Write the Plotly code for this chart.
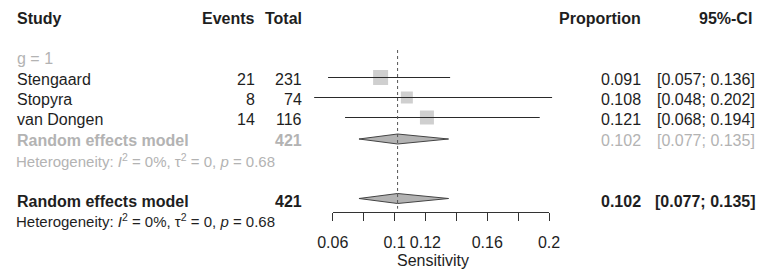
import plotly.graph_objects as go

# ---------------- data ----------------
studies = ["Stengaard", "Stopyra", "van Dongen"]
events = [21, 8, 14]
totals = [231, 74, 116]
proportion = [0.091, 0.108, 0.121]
ci_lower = [0.057, 0.048, 0.068]
ci_upper = [0.136, 0.202, 0.194]

subgroup_label = "g = 1"
subgroup_est, subgroup_lo, subgroup_hi, subgroup_total = 0.102, 0.077, 0.135, 421
overall_est, overall_lo, overall_hi, overall_total = 0.102, 0.077, 0.135, 421
het_i2, het_tau2, het_p = "0%", "0", "0.68"

axis_ticks = [0.06, 0.08, 0.10, 0.12, 0.14, 0.16, 0.18, 0.20]
labelled_ticks = [0.06, 0.10, 0.12, 0.16, 0.20]
axis_tick_labels = ["0.06", "0.1", "0.12", "0.16", "0.2"]
axis_title = "Sensitivity"
headers = ["Study", "Events", "Total", "Proportion", "95%-CI"]

# ---------------- styles / layout ----------------
W, H = 763, 272
FONT = "Liberation Sans, Arial, sans-serif"
FS = 16
FS_HET = 15
DARK = "#1e1e1e"
GREY = "#b3b3b3"
square_px = [15, 12, 14]

# pixel layout of the forest axis: 0.06 -> 332.7 px, 0.2 -> 549 px
ax_px0, ax_px1 = 332.7, 549.0
scale = (ax_px1 - ax_px0) / (axis_ticks[-1] - axis_ticks[0])
x_min = axis_ticks[0] - ax_px0 / scale
x_max = axis_ticks[0] + (W - ax_px0) / scale
axis_line_y = 211.7

study_rows = [77.5, 97.5, 117.5]
text_dy = 1.5
y_header = 18
y_group = 58
y_sub = 139
y_sub_het = 160
y_all = 198.5
y_all_het = 220

fig = go.Figure()

# study squares
fig.add_trace(go.Scatter(
    x=proportion, y=study_rows, mode="markers",
    marker=dict(symbol="square", size=square_px, color="#bababa", line=dict(width=0)),
    hoverinfo="skip", showlegend=False))

# confidence interval lines
cx, cy = [], []
for lo, hi, r in zip(ci_lower, ci_upper, study_rows):
    cx += [lo, hi, None]
    cy += [r, r, None]
fig.add_trace(go.Scatter(x=cx, y=cy, mode="lines",
                         line=dict(color="#2a2a2a", width=1),
                         hoverinfo="skip", showlegend=False))

# diamonds
def diamond(est, lo, hi, yc, half=5):
    fig.add_trace(go.Scatter(
        x=[lo, est, hi, est, lo], y=[yc, yc - half, yc, yc + half, yc],
        mode="lines", fill="toself", fillcolor="#b3b3b3",
        line=dict(color="#444444", width=1),
        hoverinfo="skip", showlegend=False))

diamond(subgroup_est, subgroup_lo, subgroup_hi, y_sub)
diamond(overall_est, overall_lo, overall_hi, y_all)

# dotted reference line at pooled estimate
fig.add_trace(go.Scatter(x=[overall_est, overall_est], y=[50, axis_line_y - 3],
                         mode="lines", line=dict(color="#555555", width=1, dash="dot"),
                         hoverinfo="skip", showlegend=False))

# dummy trace for the visible axis subplot
fig.add_trace(go.Scatter(x=[axis_ticks[0]], y=[0], xaxis="x2", yaxis="y2",
                         mode="markers", marker=dict(opacity=0),
                         hoverinfo="skip", showlegend=False))

ann = []
def txt(s, px, y, anchor="left", color=DARK, size=FS):
    ann.append(dict(text=s, x=px / W, xref="paper", y=y, yref="y",
                    xanchor=anchor, yanchor="middle", showarrow=False,
                    font=dict(family=FONT, size=size, color=color)))

# headers
txt("<b>%s</b>" % headers[0], 15, y_header)
txt("<b>%s</b>" % headers[1], 257, y_header, "right")
txt("<b>%s</b>" % headers[2], 304, y_header, "right")
txt("<b>%s</b>" % headers[3], 643, y_header, "right")
txt("<b>%s</b>" % headers[4], 754, y_header, "right")

# subgroup label
txt(subgroup_label, 15, y_group, color=GREY)

for s, e, n, p, lo, hi, r in zip(studies, events, totals, proportion,
                                  ci_lower, ci_upper, study_rows):
    yt = r + text_dy
    txt(s, 15, yt)
    txt(str(e), 257, yt, "right")
    txt(str(n), 304, yt, "right")
    txt("%.3f" % p, 643, yt, "right")
    txt("[%.3f; %.3f]" % (lo, hi), 757, yt, "right")

het = ("Heterogeneity: <i>I</i><sup>2</sup> = %s, τ<sup>2</sup> = %s, <i>p</i> = %s"
       % (het_i2, het_tau2, het_p))

# subgroup summary (grey)
txt("<b>Random effects model</b>", 15, y_sub + 1.5, color=GREY)
txt("<b>%d</b>" % subgroup_total, 304, y_sub + 1.5, "right", color=GREY)
txt("%.3f" % subgroup_est, 643, y_sub + 1.5, "right", color=GREY)
txt("[%.3f; %.3f]" % (subgroup_lo, subgroup_hi), 757, y_sub + 1.5, "right", color=GREY)
txt(het, 14, y_sub_het, color=GREY, size=FS_HET)

# overall summary
txt("<b>Random effects model</b>", 15, y_all + 2.5)
txt("<b>%d</b>" % overall_total, 304, y_all + 2.5, "right")
txt("<b>%.3f</b>" % overall_est, 643, y_all + 2.5, "right")
txt("<b>[%.3f; %.3f]</b>" % (overall_lo, overall_hi), 758, y_all + 2.5, "right")
txt(het, 14, y_all_het, size=FS_HET)

# axis title
txt(axis_title, 432.5, 260, "center")

unlabelled = [t for t in axis_ticks if all(abs(t - v) > 1e-9 for v in labelled_ticks)]

fig.update_layout(
    width=W, height=H,
    margin=dict(l=0, r=0, t=0, b=0, pad=0, autoexpand=False),
    paper_bgcolor="white", plot_bgcolor="rgba(0,0,0,0)",
    showlegend=False,
    xaxis=dict(domain=[0, 1], range=[x_min, x_max], visible=False, fixedrange=True),
    yaxis=dict(domain=[0, 1], range=[H, 0], visible=False, fixedrange=True),
    xaxis2=dict(domain=[ax_px0 / W, ax_px1 / W], range=[axis_ticks[0], axis_ticks[-1]],
                anchor="y2", showline=True, linecolor="#333333", linewidth=1,
                ticks="outside", ticklen=8, tickcolor="#333333", tickwidth=1,
                tickvals=labelled_ticks, ticktext=axis_tick_labels,
                minor=dict(tickvals=unlabelled, ticks="outside", ticklen=8,
                           tickcolor="#333333", tickwidth=1, showgrid=False),
                ticklabelstandoff=8, automargin=False,
                tickfont=dict(family=FONT, size=FS, color=DARK),
                showgrid=False, zeroline=False, fixedrange=True),
    yaxis2=dict(domain=[(H - axis_line_y) / H, 1], anchor="x2", visible=False,
                range=[0, 1], fixedrange=True),
    annotations=ann,
)

fig.write_html("out.html", config={"displayModeBar": False},
               post_script="document.body.style.margin='0';document.body.style.overflow='hidden';")
